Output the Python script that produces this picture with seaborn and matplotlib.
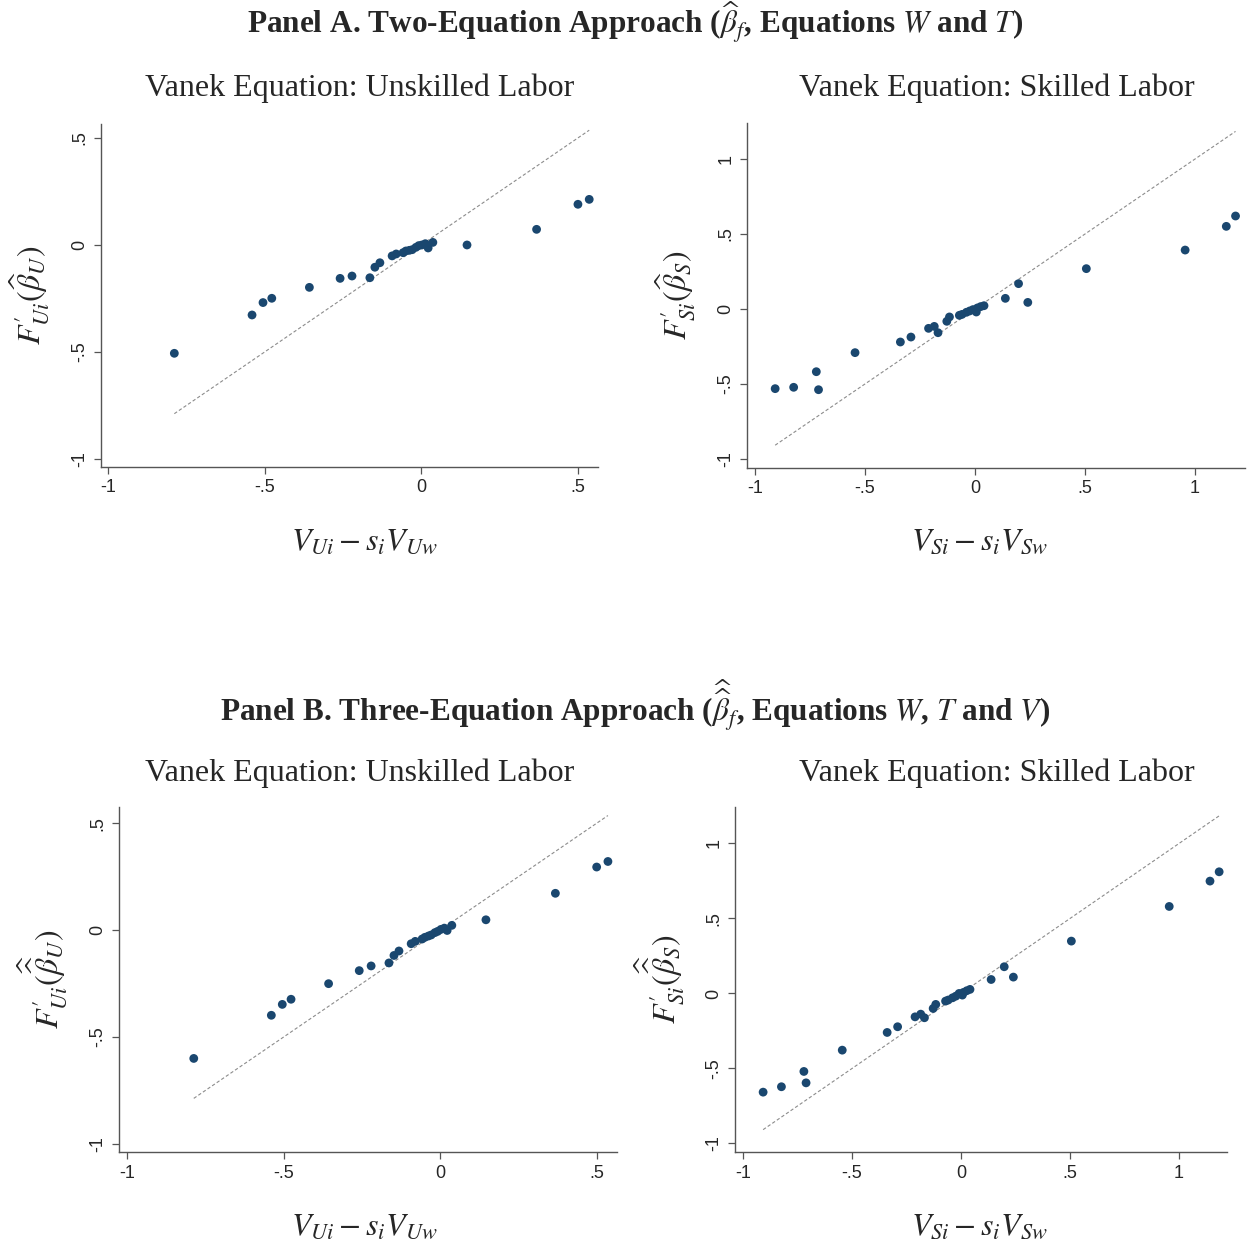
import numpy as np
import pandas as pd
import seaborn as sns
import matplotlib
matplotlib.use("Agg")
from matplotlib import pyplot as plt

# V_Ui - s_i V_Uw (same in both panels)
x_unsk = [-0.788, -0.540, -0.505, -0.477, -0.357, -0.259, -0.221, -0.164, -0.148, -0.132,
          -0.093, -0.080, -0.058, -0.049, -0.038, -0.029, -0.017, -0.008, 0.002, 0.013,
          0.022, 0.037, 0.146, 0.368, 0.500, 0.536]
y_unsk_a = [-0.506, -0.327, -0.269, -0.249, -0.198, -0.156, -0.145, -0.153, -0.104, -0.083,
            -0.051, -0.042, -0.036, -0.028, -0.025, -0.022, -0.011, -0.003, 0.000, 0.006,
            -0.014, 0.012, 0.000, 0.073, 0.190, 0.213]
y_unsk_b = [-0.601, -0.399, -0.348, -0.324, -0.251, -0.190, -0.168, -0.154, -0.119, -0.098,
            -0.064, -0.053, -0.042, -0.034, -0.028, -0.023, -0.012, -0.006, 0.003, 0.009,
            -0.002, 0.022, 0.048, 0.172, 0.295, 0.321]

# V_Si - s_i V_Sw
x_sk = [-0.908, -0.824, -0.721, -0.711, -0.545, -0.339, -0.291, -0.211, -0.185, -0.168,
        -0.128, -0.116, -0.071, -0.059, -0.039, -0.024, -0.009, 0.006, 0.011, 0.026,
        0.041, 0.138, 0.198, 0.240, 0.506, 0.955, 1.142, 1.184]
y_sk_a = [-0.531, -0.522, -0.418, -0.538, -0.291, -0.220, -0.187, -0.129, -0.116, -0.158,
          -0.082, -0.053, -0.042, -0.036, -0.022, -0.013, -0.004, -0.020, 0.007, 0.016,
          0.022, 0.071, 0.169, 0.044, 0.269, 0.393, 0.551, 0.620]
y_sk_b = [-0.658, -0.622, -0.520, -0.596, -0.378, -0.260, -0.222, -0.156, -0.138, -0.162,
          -0.100, -0.073, -0.051, -0.044, -0.029, -0.018, 0.000, -0.011, 0.007, 0.018,
          0.027, 0.093, 0.178, 0.109, 0.349, 0.580, 0.749, 0.811]

ticks_u = [-1, -0.5, 0, 0.5]
ticks_s = [-1, -0.5, 0, 0.5, 1]
tick_labels = {-1: "-1", -0.5: "-.5", 0: "0", 0.5: ".5", 1: "1"}

sns.set_style("ticks")
plt.rcParams["font.family"] = ["Liberation Serif", "DejaVu Serif"]
plt.rcParams["mathtext.fontset"] = "stix"

navy = "#1a476f"
fig = plt.figure(figsize=(12.48, 12.47), dpi=100)

# axes boxes in pixels: left, right, top, bottom
panels = [
    ((101, 598, 124, 467), x_unsk, y_unsk_a, ticks_u, (-1.022, 0.564), (-1.037, 0.565),
     "Vanek Equation: Unskilled Labor", r"$V_{Ui} - s_i V_{Uw}$", r"$F^{\prime}_{Ui}(\widehat{\beta}_U)$", 364, 360),
    ((747, 1245, 123, 468), x_sk, y_sk_a, ticks_s, (-1.036, 1.227), (-1.06, 1.24),
     "Vanek Equation: Skilled Labor", r"$V_{Si} - s_i V_{Sw}$", r"$F^{\prime}_{Si}(\widehat{\beta}_S)$", 979, 997),
    ((119, 617, 807, 1152), x_unsk, y_unsk_b, ticks_u, (-1.027, 0.565), (-1.039, 0.576),
     "Vanek Equation: Unskilled Labor", r"$V_{Ui} - s_i V_{Uw}$", r"$F^{\prime}_{Ui}(\widehat{\widehat{\beta}}_U)$", 364, 360),
    ((735, 1227, 807, 1152), x_sk, y_sk_b, ticks_s, (-1.037, 1.22), (-1.057, 1.243),
     "Vanek Equation: Skilled Labor", r"$V_{Si} - s_i V_{Sw}$", r"$F^{\prime}_{Si}(\widehat{\widehat{\beta}}_S)$", 979, 997),
]

W, H = 1248, 1247
for (l, r, t, b), xs, ys, tk, xl, yl, title, xlab, ylab, xlab_px, title_px in panels:
    ax = fig.add_axes([l / W, 1 - b / H, (r - l) / W, (b - t) / H])
    df = pd.DataFrame({"x": xs, "y": ys})
    lo, hi = min(xs), max(xs)
    ax.plot([lo, hi], [lo, hi], ls=(0, (3, 2)), lw=0.8, color="#8c8c8c", zorder=1)
    sns.scatterplot(data=df, x="x", y="y", ax=ax, color=navy, s=40, edgecolor="none", zorder=2)
    ax.set_xlim(*xl)
    ax.set_ylim(*yl)
    ax.set_xticks(tk)
    ax.set_xticklabels([tick_labels[v] for v in tk], family=["Liberation Sans"], fontsize=13)
    ax.set_yticks(tk)
    ax.set_yticklabels([tick_labels[v] for v in tk], family=["Liberation Sans"], fontsize=13,
                       rotation=90, va="center")
    ax.tick_params(length=5, width=0.9, color="#555555", pad=4)
    sns.despine(ax=ax)
    for s in ["left", "bottom"]:
        ax.spines[s].set_color("#555555")
        ax.spines[s].set_linewidth(1.0)
    ax.set_xlabel(xlab, fontsize=23, va="top")
    ax.xaxis.set_label_coords((xlab_px - l) / (r - l), (b - 528) / (b - t) if t < 500 else (b - 1213) / (b - t))
    ax.set_ylabel(ylab, fontsize=23)
    ax.yaxis.set_label_coords(-0.10, 0.5)
    ty = 88 if t < 500 else 773
    ax.text((title_px - l) / (r - l), (b - ty) / (b - t), title, transform=ax.transAxes,
            ha="center", va="center", fontsize=23)

fig.text(635 / W, 1 - 22 / H,
         r"Panel A. Two-Equation Approach ($\widehat{\beta}_f$, Equations $W$ and $T$)",
         ha="center", va="center", fontsize=22.5, fontweight="bold")
fig.text(635 / W, 1 - 705 / H,
         r"Panel B. Three-Equation Approach ($\widehat{\widehat{\beta}}_f$, Equations $W$, $T$ and $V$)",
         ha="center", va="center", fontsize=22.5, fontweight="bold")

fig.savefig("out.png", dpi=100, facecolor="white")
